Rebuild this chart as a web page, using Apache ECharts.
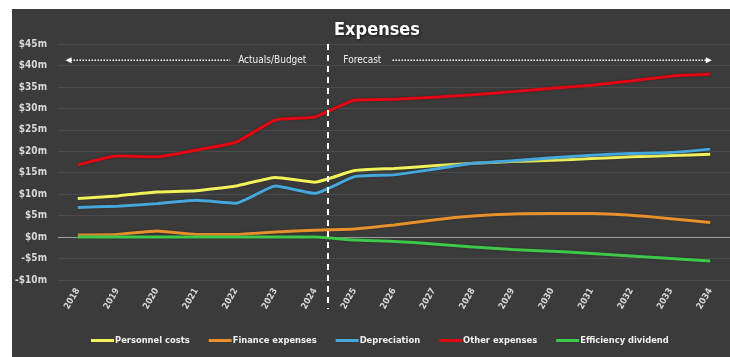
<!DOCTYPE html>
<html>
<head>
<meta charset="utf-8">
<script src="https://cdn.jsdelivr.net/npm/echarts@6/dist/echarts.min.js"></script>
<style>
  html, body { margin: 0; padding: 0; background: #ffffff; }
  #wrap { position: relative; width: 730px; height: 357px; overflow: hidden; }
  #chart { position: absolute; left: 12px; top: 9px; width: 718px; height: 348px; }
</style>
</head>
<body>
<div id="wrap"><div id="chart"></div></div>
<script>
// Financial years shown on the category axis
const years = ['2018','2019','2020','2021','2022','2023','2024','2025','2026',
               '2027','2028','2029','2030','2031','2032','2033','2034'];

// Expense lines, $ millions per year
const personnelCosts = [9.0, 9.6, 10.5, 10.8, 11.9, 13.9, 12.8, 15.5, 16.0,
                        16.6, 17.2, 17.6, 17.9, 18.3, 18.7, 19.0, 19.3];
const financeExpenses = [0.5, 0.6, 1.4, 0.6, 0.6, 1.2, 1.6, 1.9, 2.8,
                         4.0, 4.9, 5.4, 5.5, 5.5, 5.1, 4.3, 3.4];
const depreciation = [6.9, 7.2, 7.8, 8.6, 7.9, 11.9, 10.2, 14.1, 14.5,
                      15.8, 17.2, 17.8, 18.5, 19.1, 19.5, 19.7, 20.5];
const otherExpenses = [16.8, 18.9, 18.7, 20.3, 22.1, 27.3, 28.0, 31.9, 32.1,
                       32.6, 33.2, 33.9, 34.7, 35.4, 36.4, 37.5, 38.0];
const efficiencyDividend = [0, 0, 0, 0, 0, 0, 0, -0.7, -1.0,
                            -1.6, -2.3, -2.9, -3.3, -3.8, -4.4, -5.0, -5.6];

// Value axis ticks
const yMin = -10, yMax = 45, yStep = 5;

const seriesDefs = [
  { name: 'Personnel costs', data: personnelCosts, color: '#f2f25a' },
  { name: 'Finance expenses', data: financeExpenses, color: '#e8912c' },
  { name: 'Depreciation', data: depreciation, color: '#45a7dc' },
  { name: 'Other expenses', data: otherExpenses, color: '#e30613' },
  { name: 'Efficiency dividend', data: efficiencyDividend, color: '#3ec94a' }
];

const FONT = '"DejaVu Sans Condensed", "DejaVu Sans", sans-serif';
const chart = echarts.init(document.getElementById('chart'), null, { renderer: 'canvas' });

const series = seriesDefs.map(s => ({
  name: s.name,
  type: 'line',
  data: s.data,
  xAxisIndex: 0,
  yAxisIndex: 0,
  smooth: 0.15,
  symbol: 'none',
  lineStyle: { width: 3, color: s.color, shadowColor: 'rgba(0,0,0,0.35)', shadowBlur: 2 },
  itemStyle: { color: s.color },
  z: 5
}));

// Zero baseline drawn across the plot
series.push({
  type: 'line',
  xAxisIndex: 1,
  yAxisIndex: 0,
  data: [],
  silent: true,
  markLine: {
    silent: true,
    symbol: 'none',
    label: { show: false },
    lineStyle: { color: '#a0a0a0', width: 1, type: 'solid' },
    data: [{ yAxis: 0 }]
  },
  z: 3
});

chart.setOption({
  backgroundColor: '#3b3b3b',
  animation: false,
  title: {
    text: 'Expenses',
    left: 360,
    top: 7,
    textAlign: 'center',
    textStyle: {
      color: '#ffffff',
      fontFamily: FONT,
      fontWeight: 'bold',
      fontSize: 18,
      textShadowColor: 'rgba(0,0,0,0.6)',
      textShadowBlur: 3,
      textShadowOffsetX: 1,
      textShadowOffsetY: 1
    }
  },
  grid: { left: 46, right: 0, top: 35, bottom: 77, containLabel: false },
  legend: {
    data: seriesDefs.map(s => s.name),
    left: 74,
    bottom: 7,
    icon: 'rect',
    itemWidth: 23,
    itemHeight: 3,
    itemGap: 19,
    textStyle: { color: '#f0f0f0', fontFamily: FONT, fontWeight: 'bold', fontSize: 9.3, padding: [0, 0, 0, -4] }
  },
  xAxis: [
    {
      type: 'category',
      data: years,
      boundaryGap: true,
      position: 'bottom',
      axisLine: { show: false, onZero: false },
      axisTick: { show: false },
      splitLine: { show: false },
      axisLabel: {
        rotate: 60,
        margin: 9,
        color: '#d8d8d8',
        fontFamily: FONT,
        fontWeight: 'bold',
        fontSize: 9
      }
    },
    {
      // helper value axis spanning the same category band, used for annotations
      type: 'value',
      min: -0.5,
      max: 16.5,
      show: false
    }
  ],
  yAxis: {
    type: 'value',
    min: yMin,
    max: yMax,
    interval: yStep,
    axisLine: { show: false },
    axisTick: { show: false },
    splitLine: { show: true, lineStyle: { color: '#4b4b4b', width: 1 } },
    axisLabel: {
      margin: 11,
      color: '#d8d8d8',
      fontFamily: FONT,
      fontWeight: 'bold',
      fontSize: 10,
      formatter: v => (v < 0 ? '-$' + Math.abs(v) : '$' + v) + 'm'
    }
  },
  series: series
});

// Annotations: period divider, period labels and arrows
function px(xv, yv) {
  return chart.convertToPixel({ xAxisIndex: 1, yAxisIndex: 0 }, [xv, yv]);
}
const dividerX = 6.33;
const annY = 41.2;
const divTop = px(dividerX, yMax);
const divBottom = px(dividerX, yMin);
const leftArrowA = px(-0.31, annY);
const leftArrowB = px(3.86, annY);
const actualsPos = px(4.92, annY);
const forecastPos = px(7.2, annY);
const rightArrowA = px(7.96, annY);
const rightArrowB = px(16.04, annY);

const dotted = { stroke: '#ffffff', lineWidth: 1.5, lineDash: [1.5, 1.5] };
chart.setOption({
  graphic: [
    {
      type: 'line',
      shape: { x1: divTop[0], y1: divTop[1], x2: divBottom[0], y2: divBottom[1] + 29 },
      style: { stroke: '#ffffff', lineWidth: 2, lineDash: [6, 5] },
      z: 10
    },
    {
      type: 'line',
      shape: { x1: leftArrowA[0] + 5, y1: leftArrowA[1], x2: leftArrowB[0], y2: leftArrowB[1] },
      style: dotted, z: 10
    },
    {
      type: 'polygon',
      shape: { points: [[leftArrowA[0], leftArrowA[1]], [leftArrowA[0] + 6, leftArrowA[1] - 3], [leftArrowA[0] + 6, leftArrowA[1] + 3]] },
      style: { fill: '#ffffff' }, z: 10
    },
    {
      type: 'line',
      shape: { x1: rightArrowA[0], y1: rightArrowA[1], x2: rightArrowB[0] - 5, y2: rightArrowB[1] },
      style: dotted, z: 10
    },
    {
      type: 'polygon',
      shape: { points: [[rightArrowB[0], rightArrowB[1]], [rightArrowB[0] - 6, rightArrowB[1] - 3], [rightArrowB[0] - 6, rightArrowB[1] + 3]] },
      style: { fill: '#ffffff' }, z: 10
    },
    {
      type: 'text',
      x: actualsPos[0], y: actualsPos[1],
      style: { text: 'Actuals/Budget', fill: '#f0f0f0', font: '10px ' + FONT, align: 'center', verticalAlign: 'middle' },
      z: 10
    },
    {
      type: 'text',
      x: forecastPos[0], y: forecastPos[1],
      style: { text: 'Forecast', fill: '#f0f0f0', font: '10px ' + FONT, align: 'center', verticalAlign: 'middle' },
      z: 10
    }
  ]
});
</script>
</body>
</html>
